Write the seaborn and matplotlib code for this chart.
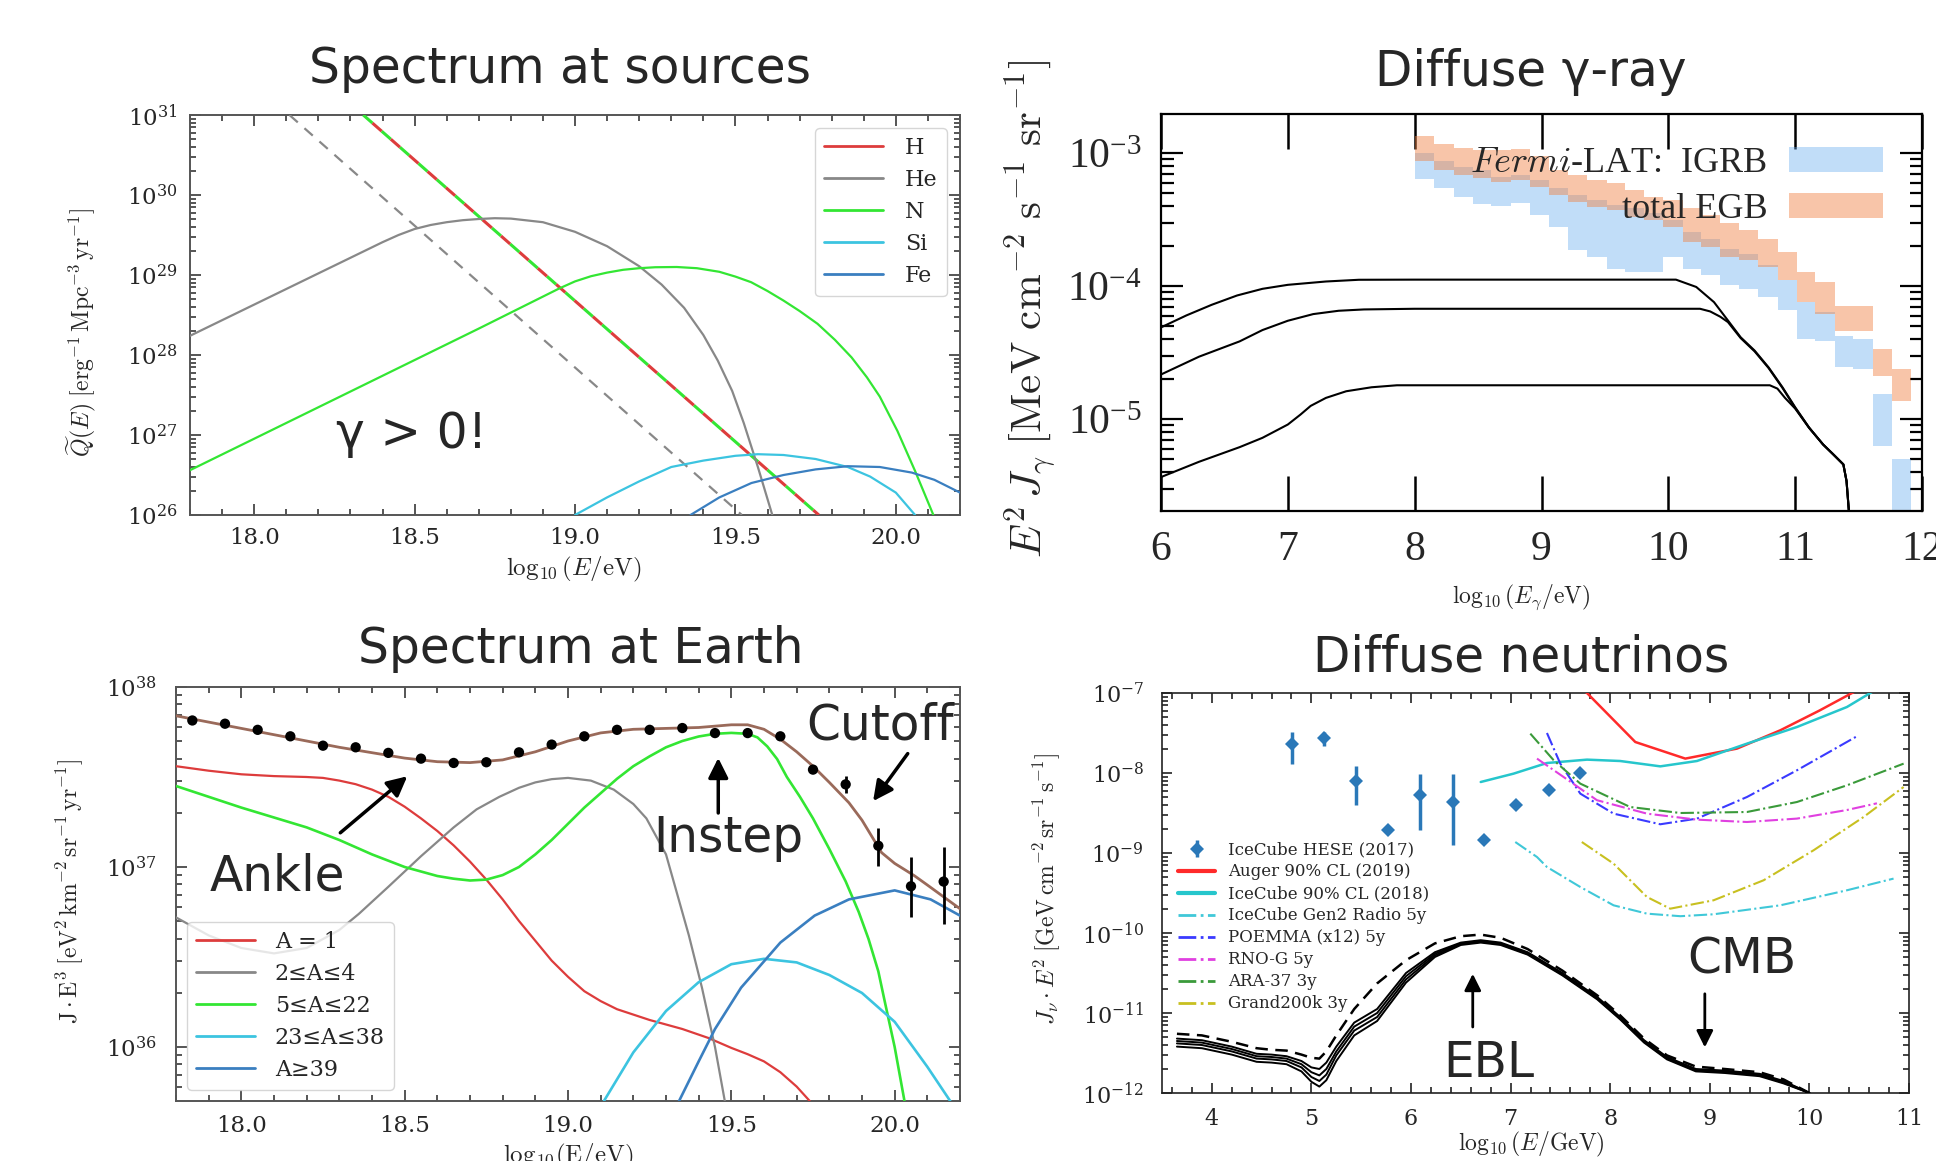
import numpy as np
import matplotlib.pyplot as plt
import seaborn as sns
from matplotlib.lines import Line2D
from matplotlib.patches import Patch
from matplotlib.ticker import MultipleLocator, LogLocator, NullFormatter
from matplotlib.font_manager import FontProperties

# ---------------- panel 1: spectrum at sources (log10 E/eV , log10 Q) ----------------
src_grey_dash_e = [18.11, 19.52]
src_grey_dash_q = [31.0, 26.0]
src_h_dash_e = [18.34, 19.76]
src_h_dash_q = [31.0, 26.0]
src_he_e = [17.8, 18.0, 18.2, 18.4, 18.45, 18.5, 18.55, 18.6, 18.65, 18.7, 18.75, 18.8, 18.9,
            19.0, 19.1, 19.2, 19.27, 19.34, 19.4, 19.445, 19.49, 19.526, 19.57, 19.615]
src_he_q = [28.24, 28.63, 29.02, 29.41, 29.50, 29.575, 29.625, 29.66, 29.685, 29.70, 29.71, 29.705,
            29.66, 29.54, 29.36, 29.11, 28.88, 28.59, 28.25, 27.93, 27.55, 27.15, 26.6, 26.0]
src_n_e = [17.8, 18.1, 18.4, 18.7, 18.9, 18.95, 19.0, 19.05, 19.1, 19.15, 19.2, 19.25, 19.317,
           19.38, 19.45, 19.5, 19.549, 19.6, 19.65, 19.7, 19.756, 19.81, 19.862, 19.91, 19.95,
           20.005, 20.06, 20.117]
src_n_q = [26.56, 27.15, 27.74, 28.33, 28.73, 28.83, 28.92, 28.985, 29.03, 29.065, 29.085, 29.097,
           29.10, 29.085, 29.04, 28.98, 28.91, 28.80, 28.68, 28.55, 28.39, 28.19, 27.97, 27.72, 27.48,
           27.05, 26.55, 26.0]
src_si_e = [19.0, 19.1, 19.2, 19.3, 19.4, 19.5, 19.57, 19.65, 19.75, 19.85, 19.92, 20.0, 20.06]
src_si_q = [26.0, 26.22, 26.42, 26.60, 26.68, 26.74, 26.76, 26.75, 26.70, 26.60, 26.48, 26.28, 26.0]
src_fe_e = [19.36, 19.45, 19.55, 19.65, 19.75, 19.85, 19.95, 20.05, 20.12, 20.2]
src_fe_q = [26.0, 26.22, 26.40, 26.50, 26.57, 26.61, 26.60, 26.53, 26.44, 26.28]
src_labels = ['H', 'He', 'N', 'Si', 'Fe']

# ---------------- panel 2: diffuse gamma rays (log10 E/eV , log10 E^2 J) ----------------
gam_a_e = [6.0, 6.2, 6.4, 6.6, 6.8, 7.0, 7.3, 7.56, 8.0, 9.0, 10.06, 10.22, 10.36, 10.47, 10.57,
           10.68, 10.79, 10.9, 11.0, 11.11, 11.22, 11.3, 11.38, 11.405, 11.426]
gam_a_j = [-4.31, -4.22, -4.14, -4.07, -4.02, -3.99, -3.965, -3.952, -3.951, -3.951, -3.951, -4.006,
           -4.12, -4.258, -4.384, -4.484, -4.61, -4.76, -4.91, -5.063, -5.19, -5.264, -5.34, -5.465, -5.72]
gam_b_e = [6.0, 6.3, 6.62, 6.8, 7.0, 7.2, 7.4, 7.6, 8.0, 10.25, 10.33, 10.41, 10.47, 10.57,
           10.68, 10.79, 10.9, 11.0, 11.11, 11.22, 11.3, 11.38, 11.405, 11.426]
gam_b_j = [-4.664, -4.53, -4.415, -4.33, -4.26, -4.21, -4.185, -4.175, -4.17, -4.17, -4.19, -4.23,
           -4.27, -4.39, -4.49, -4.615, -4.765, -4.915, -5.065, -5.19, -5.264, -5.34, -5.465, -5.72]
gam_c_e = [6.0, 6.3, 6.62, 6.8, 7.0, 7.1, 7.18, 7.3, 7.46, 7.66, 7.86, 10.8, 10.86, 10.92, 11.0,
           11.11, 11.22, 11.3, 11.38, 11.405, 11.426]
gam_c_j = [-5.435, -5.32, -5.21, -5.14, -5.04, -4.965, -4.90, -4.84, -4.79, -4.76, -4.745, -4.745,
           -4.77, -4.84, -4.92, -5.065, -5.19, -5.264, -5.34, -5.465, -5.72]
fermi_edges = [8.0, 8.155, 8.308, 8.461, 8.603, 8.756, 8.906, 9.059, 9.212, 9.362, 9.515, 9.662,
               9.810, 9.957, 10.113, 10.260, 10.408, 10.560, 10.708, 10.863, 11.011, 11.158,
               11.311, 11.458, 11.614, 11.761, 11.914]
egb_hi = [-2.874, -2.930, -2.962, -2.975, -2.980, -2.970, -3.025, -3.126, -3.164, -3.201, -3.226,
          -3.277, -3.327, -3.352, -3.415, -3.465, -3.528, -3.579, -3.642, -3.742, -3.893, -3.969,
          -4.152, -4.152, -4.472, -4.623]
egb_lo = [-3.063, -3.126, -3.164, -3.189, -3.214, -3.201, -3.252, -3.314, -3.365, -3.403, -3.428,
          -3.478, -3.503, -3.553, -3.667, -3.704, -3.780, -3.805, -3.855, -3.956, -4.119, -4.208,
          -4.338, -4.338, -4.673, -4.862]
igrb_hi = [-3.0, -3.063, -3.101, -3.126, -3.176, -3.164, -3.201, -3.264, -3.314, -3.352, -3.390,
           -3.415, -3.453, -3.503, -3.591, -3.642, -3.717, -3.755, -3.843, -3.956, -4.119, -4.195,
           -4.371, -4.396, -4.811, -5.302]
igrb_lo = [-3.196, -3.264, -3.327, -3.382, -3.397, -3.377, -3.465, -3.558, -3.730, -3.780, -3.868,
           -3.893, -3.893, -3.780, -3.868, -3.918, -3.994, -4.019, -4.082, -4.182, -4.396, -4.409,
           -4.610, -4.623, -5.201, -5.9]

# ---------------- panel 3: spectrum at Earth (log10 E/eV , log10 J E^3) ----------------
ear_tot_e = [17.8, 17.9, 18.0, 18.1, 18.2, 18.3, 18.4, 18.5, 18.6, 18.7, 18.8, 18.9, 19.0, 19.1,
             19.2, 19.3, 19.4, 19.5, 19.55, 19.6, 19.65, 19.7, 19.75, 19.8, 19.86, 19.9, 19.96,
             20.0, 20.06, 20.1, 20.2]
ear_tot_j = [37.84, 37.805, 37.77, 37.735, 37.70, 37.665, 37.635, 37.605, 37.585, 37.58, 37.595,
             37.64, 37.70, 37.745, 37.765, 37.77, 37.775, 37.79, 37.79, 37.765, 37.71, 37.64, 37.56,
             37.47, 37.357, 37.26, 37.08, 37.02, 36.952, 36.90, 36.768]
ear_a1_e = [17.8, 17.9, 18.0, 18.1, 18.2, 18.25, 18.3, 18.35, 18.4, 18.45, 18.5, 18.55, 18.6,
            18.65, 18.7, 18.75, 18.8, 18.85, 18.9, 18.95, 19.0, 19.05, 19.1, 19.15, 19.25, 19.35,
            19.43, 19.5, 19.55, 19.6, 19.65, 19.7, 19.74]
ear_a1_j = [37.56, 37.535, 37.515, 37.505, 37.50, 37.495, 37.48, 37.46, 37.43, 37.39, 37.335,
            37.27, 37.20, 37.12, 37.03, 36.93, 36.82, 36.70, 36.59, 36.48, 36.39, 36.31, 36.255,
            36.21, 36.15, 36.10, 36.05, 35.995, 35.96, 35.92, 35.86, 35.78, 35.70]
ear_he_e = [17.8, 17.9, 18.0, 18.1, 18.2, 18.3, 18.36, 18.45, 18.55, 18.65, 18.72, 18.79, 18.85,
            18.9, 18.95, 19.0, 19.07, 19.14, 19.2, 19.24, 19.3, 19.37, 19.41, 19.45, 19.48]
ear_he_j = [36.72, 36.62, 36.55, 36.52, 36.55, 36.65, 36.74, 36.89, 37.06, 37.22, 37.32, 37.39,
            37.44, 37.47, 37.488, 37.495, 37.48, 37.43, 37.35, 37.27, 37.07, 36.62, 36.33, 36.0, 35.70]
ear_cno_e = [17.8, 17.9, 18.0, 18.1, 18.2, 18.3, 18.4, 18.5, 18.6, 18.65, 18.7, 18.75, 18.8,
             18.85, 18.9, 18.95, 19.0, 19.05, 19.1, 19.15, 19.2, 19.25, 19.3, 19.35, 19.4, 19.45,
             19.5, 19.55, 19.58, 19.61, 19.64, 19.67, 19.71, 19.75, 19.8, 19.85, 19.89, 19.92,
             19.95, 19.97, 20.0, 20.03]
ear_cno_j = [37.45, 37.39, 37.33, 37.275, 37.22, 37.15, 37.07, 37.0, 36.95, 36.935, 36.925, 36.93,
             36.955, 37.00, 37.07, 37.15, 37.24, 37.33, 37.41, 37.49, 37.56, 37.615, 37.665, 37.70,
             37.725, 37.74, 37.745, 37.74, 37.72, 37.67, 37.60, 37.50, 37.39, 37.27, 37.10, 36.92,
             36.75, 36.60, 36.42, 36.25, 36.0, 35.70]
ear_si_e = [19.11, 19.2, 19.3, 19.4, 19.5, 19.6, 19.7, 19.8, 19.9, 20.0, 20.1, 20.17]
ear_si_j = [35.70, 35.97, 36.20, 36.36, 36.46, 36.49, 36.47, 36.40, 36.30, 36.14, 35.89, 35.70]
ear_fe_e = [19.34, 19.4, 19.45, 19.53, 19.65, 19.755, 19.86, 20.0, 20.11, 20.2]
ear_fe_j = [35.70, 35.92, 36.10, 36.33, 36.58, 36.73, 36.82, 36.87, 36.82, 36.73]
auger_e = [17.85, 17.95, 18.05, 18.15, 18.25, 18.35, 18.45, 18.55, 18.65, 18.75, 18.85, 18.95,
           19.05, 19.15, 19.25, 19.35, 19.45, 19.55, 19.65, 19.75, 19.85, 19.95, 20.05, 20.15]
auger_j = [37.814, 37.796, 37.762, 37.726, 37.674, 37.665, 37.634, 37.602, 37.578, 37.582, 37.637,
           37.680, 37.726, 37.762, 37.762, 37.772, 37.744, 37.744, 37.726, 37.541, 37.459, 37.118,
           36.893, 36.919]
auger_err_e = [19.85, 19.95, 20.05, 20.15]
auger_err_hi = [37.504, 37.214, 37.054, 37.109]
auger_err_lo = [37.41, 37.007, 36.722, 36.685]
ear_labels = ['A = 1', '2≤A≤4', '5≤A≤22', '23≤A≤38', 'A≥39']

# ---------------- panel 4: diffuse neutrinos (log10 E/GeV , log10 J E^2) ----------------
nu_e = [3.65, 3.9, 4.2, 4.45, 4.6, 4.75, 4.9, 5.0, 5.08, 5.15, 5.25, 5.43, 5.66, 5.95, 6.24, 6.5,
        6.7, 6.9, 7.17, 7.52, 7.87, 8.1, 8.34, 8.57, 8.86, 9.15, 9.5, 9.74, 10.0]
nu_dash = [-11.26, -11.28, -11.36, -11.44, -11.46, -11.47, -11.52, -11.56, -11.57, -11.48, -11.28,
           -10.95, -10.63, -10.34, -10.13, -10.04, -10.02, -10.06, -10.2, -10.47, -10.78, -11.03,
           -11.32, -11.53, -11.67, -11.7, -11.74, -11.83, -12.0]
nu_s1 = [-11.32, -11.34, -11.42, -11.51, -11.52, -11.54, -11.60, -11.68, -11.70, -11.62, -11.42,
         -11.12, -10.95, -10.50, -10.24, -10.12, -10.09, -10.12, -10.24, -10.50, -10.80, -11.05,
         -11.34, -11.55, -11.70, -11.72, -11.76, -11.85, -12.0]
nu_s2 = [-11.35, -11.37, -11.45, -11.54, -11.55, -11.57, -11.64, -11.74, -11.78, -11.70, -11.48,
         -11.17, -11.00, -10.54, -10.26, -10.13, -10.10, -10.13, -10.25, -10.51, -10.81, -11.06,
         -11.35, -11.56, -11.71, -11.73, -11.77, -11.86, -12.0]
nu_s3 = [-11.38, -11.40, -11.48, -11.57, -11.58, -11.60, -11.68, -11.80, -11.85, -11.77, -11.53,
         -11.22, -11.05, -10.58, -10.28, -10.14, -10.11, -10.14, -10.26, -10.52, -10.82, -11.07,
         -11.36, -11.57, -11.72, -11.74, -11.78, -11.87, -12.0]
nu_s4 = [-11.42, -11.44, -11.52, -11.61, -11.62, -11.64, -11.73, -11.86, -11.92, -11.84, -11.60,
         -11.28, -11.10, -10.62, -10.30, -10.15, -10.12, -10.15, -10.27, -10.53, -10.83, -11.08,
         -11.37, -11.58, -11.73, -11.75, -11.79, -11.88, -12.0]
hese_e = [4.805, 5.123, 5.45, 5.769, 6.086, 6.42, 6.729, 7.055, 7.382, 7.693]
hese_j = [-7.641, -7.5625, -8.104, -8.708, -8.271, -8.3625, -8.833, -8.404, -8.216, -8.0]
hese_hi = [-7.487, -7.487, -7.9125, -8.708, -8.0075, -8.0075, -8.833, -8.404, -8.216, -8.0]
hese_lo = [-7.891, -7.667, -8.404, -8.708, -8.708, -8.9, -8.833, -8.404, -8.216, -8.0]
auger_nu_e = [7.6, 7.767, 8.252, 8.754, 9.273, 9.708, 10.1, 10.428, 10.6]
auger_nu_j = [-6.83, -7.0, -7.6125, -7.82, -7.695, -7.466, -7.22, -7.0, -6.89]
ic_e = [6.7, 7.03, 7.365, 7.767, 8.1, 8.503, 8.871, 9.373, 9.875, 10.377, 10.611, 10.8]
ic_j = [-8.1125, -8.008, -7.875, -7.833, -7.85, -7.917, -7.85, -7.633, -7.425, -7.175, -7.0, -6.86]
gen2_e = [7.047, 7.265, 7.365, 7.7, 8.034, 8.369, 8.704, 9.038, 9.708, 10.377, 10.845]
gen2_j = [-8.8625, -9.05, -9.175, -9.425, -9.654, -9.758, -9.79, -9.766, -9.654, -9.466, -9.32]
poemma_e = [7.365, 7.499, 7.7, 8.034, 8.503, 8.871, 9.373, 9.875, 10.494]
poemma_j = [-7.5, -7.883, -8.258, -8.508, -8.641, -8.57, -8.3, -7.966, -7.529]
rnog_e = [7.265, 7.532, 7.867, 8.369, 8.871, 9.373, 9.875, 10.377, 10.678]
rnog_j = [-7.82, -8.05, -8.34, -8.508, -8.583, -8.6125, -8.57, -8.4625, -8.379]
ara_e = [7.198, 7.432, 7.7, 8.2, 8.704, 9.373, 9.875, 10.377, 10.946]
ara_j = [-7.508, -7.84, -8.133, -8.425, -8.5, -8.4875, -8.3625, -8.154, -7.883]
grand_e = [7.715, 8.034, 8.369, 8.603, 9.038, 9.54, 10.042, 10.544, 10.946]
grand_j = [-8.8625, -9.133, -9.55, -9.696, -9.591, -9.341, -8.966, -8.55, -8.175]
nu_labels = ['IceCube HESE (2017)', 'Auger 90% CL (2019)', 'IceCube 90% CL (2018)',
             'IceCube Gen2 Radio 5y', 'POEMMA (x12) 5y', 'RNO-G 5y', 'ARA-37 3y', 'Grand200k 3y']

# colours
c_red, c_grey, c_green, c_cyan, c_blue = '#dd3c3c', '#888888', '#33e633', '#3cc4e0', '#3a7fc0'
c_brown = '#9a6a5a'

sns.set_style('ticks')
plt.rcParams['font.family'] = ['DejaVu Serif']
plt.rcParams['mathtext.fontset'] = 'dejavuserif'

W, H = 1936, 1161
fig = plt.figure(figsize=(W / 100, H / 100), dpi=100)
fig.patch.set_facecolor('white')


def box(l, t, r, b):
    return [l / W, 1 - b / H, (r - l) / W, (b - t) / H]


def curve(ax, e, logv, color, lw=1.6, ls='-', z=3):
    sns.lineplot(x=np.asarray(e), y=10.0 ** np.asarray(logv), ax=ax, color=color,
                 linewidth=lw, linestyle=ls, sort=False, estimator=None, zorder=z)


def style(ax, color, size, family, maj, mino, width, xpad, ypad):
    for s in ax.spines.values():
        s.set_color(color)
        s.set_linewidth(width)
    ax.tick_params(which='both', direction='in', top=True, right=True, color=color, width=width)
    ax.tick_params(which='major', length=maj)
    ax.tick_params(which='minor', length=mino)
    ax.tick_params(axis='x', pad=xpad, labelsize=size, labelfontfamily=family)
    ax.tick_params(axis='y', pad=ypad, labelsize=size, labelfontfamily=family)
    ax.yaxis.set_major_locator(LogLocator(base=10, numticks=100))
    ax.yaxis.set_minor_locator(LogLocator(base=10, subs=np.arange(2, 10), numticks=100))
    ax.yaxis.set_minor_formatter(NullFormatter())


title_kw = dict(ha='center', va='baseline', fontsize=35, family='DejaVu Sans')
note_kw = dict(ha='center', va='baseline', fontsize=35, family='DejaVu Sans')

# ======================= panel 1 =======================
ax1 = fig.add_axes(box(190, 115, 960, 515))
ax1.set_yscale('log')
curve(ax1, src_h_dash_e, src_h_dash_q, c_green, lw=2.2, ls=(0, (4, 4)))
curve(ax1, src_h_dash_e, src_h_dash_q, c_red, lw=2.2, ls=(4, (4, 4)))
curve(ax1, src_grey_dash_e, src_grey_dash_q, c_grey, lw=1.6, ls=(0, (5, 4)))
curve(ax1, src_he_e, src_he_q, c_grey)
curve(ax1, src_n_e, src_n_q, c_green)
curve(ax1, src_si_e, src_si_q, c_cyan)
curve(ax1, src_fe_e, src_fe_q, c_blue)
ax1.set_xlim(17.8, 20.2)
ax1.set_ylim(1e26, 1e31)
style(ax1, '#555555', 16.5, 'DejaVu Serif', 8, 4, 1.4, 9, 9)
ax1.xaxis.set_major_locator(MultipleLocator(0.5))
ax1.xaxis.set_minor_locator(MultipleLocator(0.1))
ax1.xaxis.set_major_formatter(lambda v, p: f'{v:.1f}')
ax1.set_xlabel(r'$\log_{10}(E/\mathrm{eV})$', fontsize=18, math_fontfamily='cm')
ax1.xaxis.set_label_coords(0.499, -0.10)
ax1.set_ylabel(r'$\widetilde{Q}(E)\;[\mathrm{erg^{-1}\,Mpc^{-3}\,yr^{-1}}]$', fontsize=17,
               math_fontfamily='cm')
ax1.yaxis.set_label_coords(-0.118, 0.455)
h1 = [Line2D([], [], color=c, lw=2) for c in (c_red, c_grey, c_green, c_cyan, c_blue)]
ax1.legend(h1, src_labels, loc='upper right', fontsize=16, handlelength=2.65,
           handletextpad=1.0, labelspacing=0.45, borderaxespad=0.6)
ax1.text(18.49, 10 ** 26.836, 'γ > 0!', **note_kw)
fig.text(560 / W, 1 - 82.7 / H, 'Spectrum at sources', **title_kw)

# ======================= panel 2 =======================
ax2 = fig.add_axes(box(1161, 114, 1922, 511))
ax2.set_yscale('log')
edges = np.asarray(fermi_edges)
widths = np.diff(edges)
ax2.bar(edges[:-1], 10 ** np.asarray(igrb_hi) - 10 ** np.asarray(igrb_lo), bottom=10 ** np.asarray(igrb_lo),
        width=widths, align='edge', color='#66aaee', alpha=0.4, linewidth=0, zorder=1)
ax2.bar(edges[:-1], 10 ** np.asarray(egb_hi) - 10 ** np.asarray(egb_lo), bottom=10 ** np.asarray(egb_lo),
        width=widths, align='edge', color='#f08040', alpha=0.45, linewidth=0, zorder=2)
for e, j in ((gam_a_e, gam_a_j), (gam_b_e, gam_b_j), (gam_c_e, gam_c_j)):
    curve(ax2, e, j, 'black', lw=1.5, z=4)
ax2.set_xlim(6, 12)
ax2.set_ylim(10 ** -5.69, 10 ** -2.706)
style(ax2, 'black', 30, 'Liberation Serif', 16, 9, 1.6, 14, 14)
ax2.tick_params(axis='x', which='major', length=25, width=1.8)
ax2.xaxis.set_major_locator(MultipleLocator(1))
ax2.set_xlabel(r'$\log_{10}(E_\gamma/\mathrm{eV})$', fontsize=17, math_fontfamily='cm')
ax2.xaxis.set_label_coords(0.473, -0.18)
ax2.set_ylabel(r'$E^2\,J_\gamma\;[\mathrm{MeV\ cm^{-2}\ s^{-1}\ sr^{-1}}]$', fontsize=31,
               math_fontfamily='cm')
ax2.yaxis.set_label_coords(-0.134, 0.509)
h2 = [Patch(facecolor='#66aaee', alpha=0.4, lw=0), Patch(facecolor='#f08040', alpha=0.45, lw=0)]
ax2.legend(h2, [r'$\it{Fermi}$-LAT:  IGRB', 'total EGB'], loc='upper right',
           bbox_to_anchor=(0.949, 0.918), frameon=False, markerfirst=False, borderpad=0,
           borderaxespad=0, handlelength=2.6, handleheight=0.7, labelspacing=0.36,
           handletextpad=0.6,
           prop=FontProperties(family='Liberation Serif', size=26, math_fontfamily='cm'))
fig.text(1240 * 1.2347 / W, 1 - 86.4 / H, 'Diffuse γ-ray', **title_kw)

# ======================= panel 3 =======================
ax3 = fig.add_axes(box(176, 687, 960, 1101))
ax3.set_yscale('log')
curve(ax3, ear_a1_e, ear_a1_j, c_red)
curve(ax3, ear_he_e, ear_he_j, c_grey)
curve(ax3, ear_cno_e, ear_cno_j, c_green, lw=1.9)
curve(ax3, ear_si_e, ear_si_j, c_cyan, lw=1.9)
curve(ax3, ear_fe_e, ear_fe_j, c_blue, lw=1.9)
curve(ax3, ear_tot_e, ear_tot_j, c_brown, lw=2.0, z=4)
sns.scatterplot(x=np.asarray(auger_e), y=10 ** np.asarray(auger_j), ax=ax3, color='black',
                s=55, edgecolor='none', zorder=5)
aj = 10 ** np.asarray(auger_j[-4:])
ax3.errorbar(auger_err_e, aj, yerr=[aj - 10 ** np.asarray(auger_err_lo), 10 ** np.asarray(auger_err_hi) - aj],
             fmt='none', ecolor='black', elinewidth=2, zorder=5)
ax3.set_xlim(17.8, 20.2)
ax3.set_ylim(10 ** 35.7, 1e38)
style(ax3, '#555555', 16.5, 'DejaVu Serif', 8, 4, 1.4, 10, 14)
ax3.xaxis.set_major_locator(MultipleLocator(0.5))
ax3.xaxis.set_minor_locator(MultipleLocator(0.1))
ax3.xaxis.set_major_formatter(lambda v, p: f'{v:.1f}')
ax3.set_xlabel(r'$\mathrm{log_{10}(E/eV)}$', fontsize=18, math_fontfamily='cm')
ax3.xaxis.set_label_coords(0.5, -0.099)
ax3.set_ylabel(r'$\mathrm{J\cdot E^3\;[eV^2\,km^{-2}\,sr^{-1}\,yr^{-1}]}$', fontsize=17,
               math_fontfamily='cm')
ax3.yaxis.set_label_coords(-0.115, 0.506)
h3 = [Line2D([], [], color=c, lw=2) for c in (c_red, c_grey, c_green, c_cyan, c_blue)]
ax3.legend(h3, ear_labels, loc='lower left', fontsize=16, handlelength=2.65,
           handletextpad=0.9, labelspacing=0.45, borderaxespad=0.5)
arrow3 = dict(arrowstyle='-|>', color='black', lw=2.5, shrinkA=0, shrinkB=0, mutation_scale=30)
ax3.text(18.111, 10 ** 36.869, 'Ankle', **note_kw)
ax3.annotate('', xy=(18.508, 10 ** 37.504), xytext=(18.303, 10 ** 37.19), arrowprops=arrow3)
ax3.text(19.491, 10 ** 37.085, 'Instep', **note_kw)
ax3.annotate('', xy=(19.46, 10 ** 37.606), xytext=(19.46, 10 ** 37.30), arrowprops=arrow3)
ax3.text(19.956, 10 ** 37.707, 'Cutoff', **note_kw)
ax3.annotate('', xy=(19.934, 10 ** 37.366), xytext=(20.04, 10 ** 37.63), arrowprops=arrow3)
fig.text(470 * 1.2347 / W, 1 - 663 / H, 'Spectrum at Earth', **title_kw)

# ======================= panel 4 =======================
ax4 = fig.add_axes(box(1162, 693, 1909, 1093))
ax4.set_yscale('log')
for s in (nu_s1, nu_s2, nu_s3, nu_s4):
    curve(ax4, nu_e, s, 'black', lw=1.4, z=4)
curve(ax4, nu_e, nu_dash, 'black', lw=1.8, ls=(0, (5, 3)), z=4)
curve(ax4, auger_nu_e, auger_nu_j, '#ff2a2a', lw=1.8)
curve(ax4, ic_e, ic_j, '#26c6cc', lw=1.8)
curve(ax4, gen2_e, gen2_j, '#40c8d8', lw=1.5, ls='-.')
curve(ax4, poemma_e, poemma_j, '#3a3aff', lw=1.5, ls='-.')
curve(ax4, rnog_e, rnog_j, '#e040e0', lw=1.5, ls='-.')
curve(ax4, ara_e, ara_j, '#3a9a3a', lw=1.5, ls='-.')
curve(ax4, grand_e, grand_j, '#c8c020', lw=1.5, ls='-.')
hj = 10 ** np.asarray(hese_j)
eb = ax4.errorbar(hese_e, hj, yerr=[hj - 10 ** np.asarray(hese_lo), 10 ** np.asarray(hese_hi) - hj],
                  fmt='D', ms=7, color='#2a78b8', mew=0, elinewidth=2.5, capsize=0, zorder=5)
ax4.set_xlim(3.5, 11)
ax4.set_ylim(1e-12, 1e-7)
style(ax4, '#222222', 16, 'DejaVu Serif', 7, 4, 1.2, 11, 13)
ax4.xaxis.set_major_locator(MultipleLocator(1))
ax4.xaxis.set_minor_locator(MultipleLocator(0.2))
ax4.set_xlabel(r'$\log_{10}(E/\mathrm{GeV})$', fontsize=17, math_fontfamily='cm')
ax4.xaxis.set_label_coords(0.494, -0.093)
ax4.set_ylabel(r'$J_\nu\cdot E^2\;[\mathrm{GeV\,cm^{-2}\,sr^{-1}\,s^{-1}}]$', fontsize=17,
               math_fontfamily='cm')
ax4.yaxis.set_label_coords(-0.133, 0.509)
h4 = [eb,
      Line2D([], [], color='#ff2a2a', lw=3),
      Line2D([], [], color='#26c6cc', lw=3),
      Line2D([], [], color='#40c8d8', lw=2, ls='-.'),
      Line2D([], [], color='#3a3aff', lw=2, ls='-.'),
      Line2D([], [], color='#e040e0', lw=2, ls='-.'),
      Line2D([], [], color='#3a9a3a', lw=2, ls='-.'),
      Line2D([], [], color='#c8c020', lw=2, ls='-.')]
ax4.legend(h4, nu_labels, loc='upper left', bbox_to_anchor=(0.022, 0.629), frameon=False,
           borderpad=0, borderaxespad=0, fontsize=12, handlelength=2.2, labelspacing=0.3)
arrow4 = dict(arrowstyle='-|>', color='black', lw=2.0, shrinkA=0, shrinkB=0, mutation_scale=25)
ax4.text(6.78, 10 ** -11.80, 'EBL', **note_kw)
ax4.annotate('', xy=(6.62, 10 ** -10.51), xytext=(6.62, 10 ** -11.175), arrowprops=arrow4)
ax4.text(9.32, 10 ** -10.51, 'CMB', **note_kw)
ax4.annotate('', xy=(8.95, 10 ** -11.43), xytext=(8.95, 10 ** -10.76), arrowprops=arrow4)
fig.text(1232 * 1.2347 / W, 1 - 671.7 / H, 'Diffuse neutrinos', **title_kw)

fig.savefig('out.png', dpi=100, facecolor='white')
